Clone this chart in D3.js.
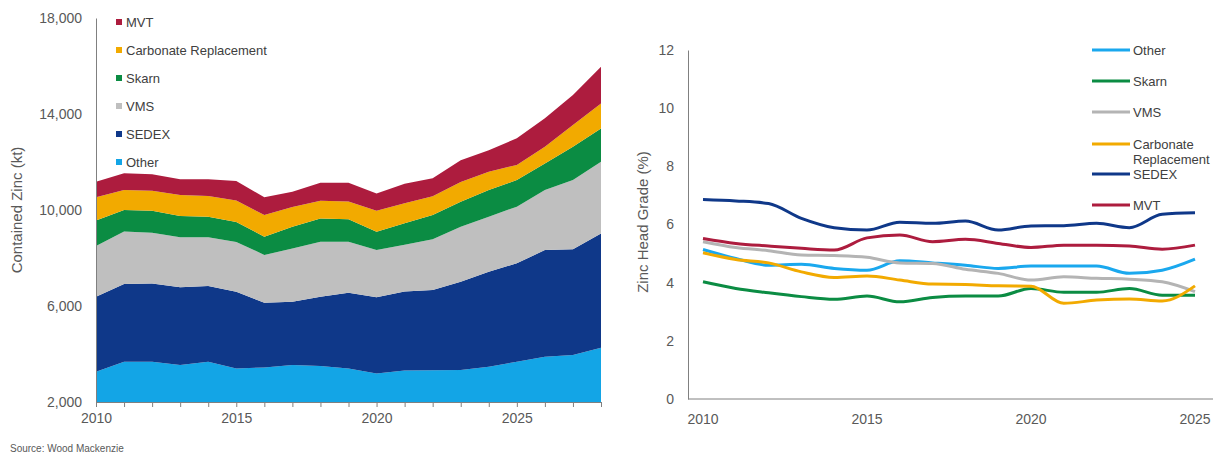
<!DOCTYPE html>
<html>
<head>
<meta charset="utf-8">
<script src="https://cdn.jsdelivr.net/npm/d3@7.9.0/dist/d3.min.js"></script>
<style>
  html, body { margin: 0; padding: 0; background: #fff; }
  svg { display: block; font-family: Arial, "Liberation Sans", sans-serif; }
  .tick-label { fill: #595959; font-size: 14px; }
  .legend-label { fill: #404040; font-size: 13px; }
</style>
</head>
<body>
<svg id="chart" width="1231" height="456"></svg>
<script>
// left chart: contained zinc by deposit type (kt)
const years = d3.range(2010, 2029);
const otherKt  = [3260, 3680, 3680, 3540, 3680, 3400, 3440, 3540, 3500, 3400, 3190, 3310, 3320, 3330, 3470, 3680, 3890, 3960, 4260];
const sedexKt  = [3130, 3240, 3260, 3240, 3150, 3190, 2700, 2640, 2890, 3150, 3170, 3290, 3350, 3680, 3960, 4100, 4440, 4400, 4760];
const vmsKt    = [2110, 2180, 2110, 2080, 2030, 2080, 1990, 2220, 2290, 2130, 1970, 1950, 2110, 2290, 2290, 2360, 2500, 2890, 2990];
const skarnKt  = [1060, 900, 920, 890, 860, 830, 760, 900, 970, 930, 760, 900, 1010, 1040, 1110, 1110, 1110, 1390, 1390];
const carbKt   = [970, 830, 830, 880, 860, 900, 900, 830, 740, 740, 880, 830, 780, 830, 760, 630, 700, 900, 1040];
const mvtKt    = [650, 700, 690, 650, 700, 810, 740, 630, 750, 790, 720, 810, 750, 900, 900, 1110, 1180, 1250, 1530];
const leftTicks = [2000, 6000, 10000, 14000, 18000];

// right chart: zinc head grade (%)
const gradeYears = d3.range(2010, 2026);
const otherPct = [5.14, 4.83, 4.60, 4.63, 4.49, 4.43, 4.75, 4.68, 4.60, 4.49, 4.57, 4.57, 4.57, 4.32, 4.43, 4.81];
const skarnPct = [4.03, 3.80, 3.65, 3.52, 3.43, 3.54, 3.34, 3.49, 3.54, 3.54, 3.80, 3.67, 3.67, 3.80, 3.57, 3.57];
const vmsPct   = [5.41, 5.21, 5.10, 4.95, 4.93, 4.87, 4.68, 4.66, 4.46, 4.32, 4.09, 4.20, 4.15, 4.12, 4.03, 3.69];
const carbPct  = [5.03, 4.80, 4.68, 4.37, 4.18, 4.23, 4.09, 3.95, 3.94, 3.89, 3.88, 3.29, 3.40, 3.44, 3.37, 3.89];
const sedexPct = [6.86, 6.81, 6.72, 6.21, 5.89, 5.81, 6.08, 6.04, 6.12, 5.81, 5.95, 5.96, 6.04, 5.89, 6.35, 6.40];
const mvtPct   = [5.52, 5.35, 5.26, 5.18, 5.12, 5.54, 5.64, 5.41, 5.49, 5.35, 5.21, 5.29, 5.29, 5.26, 5.15, 5.29];
const rightTicks = [0, 2, 4, 6, 8, 10, 12];
const xLabelYears = [2010, 2015, 2020, 2025];

const colors = {
  Other: "#13a5e6",
  SEDEX: "#0f3889",
  VMS: "#bfbfbf",
  Skarn: "#0b8c43",
  "Carbonate Replacement": "#f2aa00",
  MVT: "#ad1c3e",
};

const svg = d3.select("#chart");

// ---------- left: stacked area ----------
const stackKeys = ["Other", "SEDEX", "VMS", "Skarn", "Carbonate Replacement", "MVT"];
const stackSource = { Other: otherKt, SEDEX: sedexKt, VMS: vmsKt, Skarn: skarnKt, "Carbonate Replacement": carbKt, MVT: mvtKt };
const rows = years.map((y, i) => {
  const r = { year: y };
  stackKeys.forEach((k) => (r[k] = stackSource[k][i]));
  return r;
});
const series = d3.stack().keys(stackKeys)(rows);

const lx = d3.scaleLinear().domain([2010, 2028]).range([96, 601]);
const ly = d3.scaleLinear().domain([2000, 18000]).range([402, 18]);

svg.append("clipPath").attr("id", "leftClip")
  .append("rect").attr("x", 96).attr("y", 0).attr("width", 505).attr("height", 402);

const area = d3.area()
  .x((d) => lx(d.data.year))
  .y0((d) => ly(d[0]))
  .y1((d) => ly(d[1]));

svg.append("g").attr("clip-path", "url(#leftClip)")
  .selectAll("path")
  .data(series)
  .join("path")
  .attr("d", area)
  .attr("fill", (d) => colors[d.key]);

// left axes
const lxAxis = svg.append("g")
  .attr("transform", "translate(0,402)")
  .call(d3.axisBottom(lx).tickValues(years).tickSize(5).tickFormat((d) => (xLabelYears.includes(d) ? d : "")));
lxAxis.select(".domain").attr("stroke", "#808080");
lxAxis.selectAll(".tick line").attr("stroke", "#808080");
lxAxis.selectAll(".tick text").attr("class", "tick-label").attr("dy", "1.05em").attr("y", 6);

const lyAxis = svg.append("g")
  .attr("transform", "translate(96,0)")
  .call(d3.axisLeft(ly).tickValues(leftTicks).tickSize(0).tickPadding(14).tickFormat(d3.format(",")));
lyAxis.select(".domain").attr("stroke", "#808080");
lyAxis.selectAll(".tick text").attr("class", "tick-label");

svg.append("text")
  .attr("transform", "translate(22,210) rotate(-90)")
  .attr("text-anchor", "middle")
  .attr("fill", "#595959")
  .style("font-size", "15px")
  .text("Contained Zinc (kt)");

// left legend (top of stack first)
const leftLegend = svg.append("g").attr("transform", "translate(116,22)");
const leftItems = leftLegend.selectAll("g")
  .data(stackKeys.slice().reverse())
  .join("g")
  .attr("transform", (d, i) => `translate(0,${i * 28})`);
leftItems.append("rect").attr("x", 0).attr("y", -3).attr("width", 6).attr("height", 6).attr("fill", (d) => colors[d]);
leftItems.append("text").attr("class", "legend-label").attr("x", 10).attr("dy", "0.35em").text((d) => d);

svg.append("text")
  .attr("x", 10).attr("y", 452)
  .attr("fill", "#595959")
  .style("font-size", "10px")
  .text("Source: Wood Mackenzie");

// ---------- right: grade lines ----------
const rx = d3.scaleLinear().domain([2010, 2025]).range([703, 1195]);
const ry = d3.scaleLinear().domain([0, 12]).range([399, 50]);

const lineSeries = [
  { key: "Other", values: otherPct },
  { key: "Skarn", values: skarnPct },
  { key: "VMS", values: vmsPct },
  { key: "Carbonate Replacement", values: carbPct },
  { key: "SEDEX", values: sedexPct },
  { key: "MVT", values: mvtPct },
];
const lineColors = { ...colors, VMS: "#b4b4b4", Other: "#1aa8ee" };

const line = d3.line()
  .x((d, i) => rx(gradeYears[i]))
  .y((d) => ry(d))
  .curve(d3.curveMonotoneX);

svg.append("g")
  .selectAll("path")
  .data(lineSeries)
  .join("path")
  .attr("d", (d) => line(d.values))
  .attr("fill", "none")
  .attr("stroke", (d) => lineColors[d.key])
  .attr("stroke-width", 3);

svg.append("line").attr("x1", 688).attr("x2", 1213).attr("y1", 399).attr("y2", 399).attr("stroke", "#808080");

const ryAxis = svg.append("g")
  .attr("transform", "translate(688,0)")
  .call(d3.axisLeft(ry).tickValues(rightTicks).tickSize(0).tickPadding(14));
ryAxis.select(".domain").attr("stroke", "#808080");
ryAxis.selectAll(".tick text").attr("class", "tick-label");

svg.append("g")
  .selectAll("text")
  .data(xLabelYears)
  .join("text")
  .attr("class", "tick-label")
  .attr("x", (d) => rx(d))
  .attr("y", 424)
  .attr("text-anchor", "middle")
  .text((d) => d);

svg.append("text")
  .attr("transform", "translate(648,222) rotate(-90)")
  .attr("text-anchor", "middle")
  .attr("fill", "#595959")
  .style("font-size", "15px")
  .text("Zinc Head Grade (%)");

// right legend
const legendY = { Other: 50, Skarn: 81, VMS: 112, "Carbonate Replacement": 144, SEDEX: 174, MVT: 205 };
const rightLegend = svg.append("g").selectAll("g")
  .data(lineSeries)
  .join("g")
  .attr("transform", (d) => `translate(1092,${legendY[d.key]})`);
rightLegend.append("line").attr("x1", 0).attr("x2", 38)
  .attr("stroke", (d) => lineColors[d.key]).attr("stroke-width", 3);
rightLegend.append("text")
  .attr("class", "legend-label")
  .attr("x", 41)
  .attr("dy", "0.35em")
  .each(function (d) {
    const words = d.key === "Carbonate Replacement" ? ["Carbonate", "Replacement"] : [d.key];
    d3.select(this).selectAll("tspan")
      .data(words)
      .join("tspan")
      .attr("x", 41)
      .attr("dy", (w, i) => (i === 0 ? "0.35em" : "1.2em"))
      .text((w) => w);
  });
</script>
</body>
</html>
